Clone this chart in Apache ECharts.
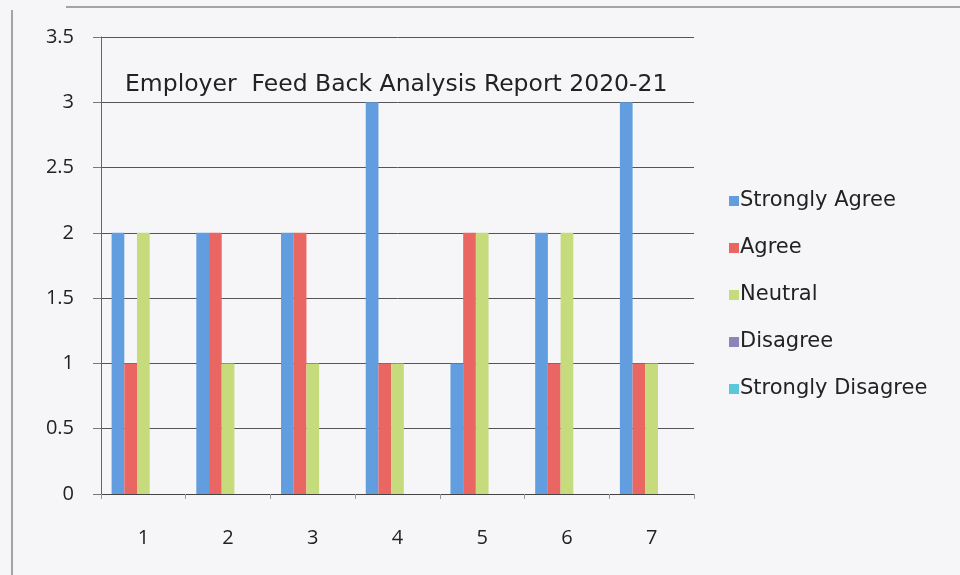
<!DOCTYPE html>
<html><head><meta charset="utf-8">
<script src="https://cdn.jsdelivr.net/npm/echarts@6/dist/echarts.min.js"></script>
<style>html,body{margin:0;padding:0;background:#f6f6f8}#c{width:960px;height:575px}</style>
</head><body><div id="c"></div>
<script>
const categories = ['1','2','3','4','5','6','7'];
const seriesNames = ['Strongly Agree','Agree','Neutral','Disagree','Strongly Disagree'];
const stronglyAgree = [2,2,2,3,1,2,3];
const agree = [1,2,2,1,2,1,1];
const neutral = [2,1,1,1,2,2,1];
const disagree = [0,0,0,0,0,0,0];
const stronglyDisagree = [0,0,0,0,0,0,0];
const titleText = 'Employer  Feed Back Analysis Report 2020-21';

const colors = ['#629ddf','#ea6663','#c6dc7c','#8c85b8','#5cc6da'];
const values = [stronglyAgree, agree, neutral, disagree, stronglyDisagree];

const chart = echarts.init(document.getElementById('c'));
chart.setOption({
  backgroundColor: '#f6f6f8',
  animation: false,
  color: colors,
  title: {
    text: titleText,
    left: 120, top: 68,
    textStyle: {fontFamily: 'DejaVu Sans', fontSize: 23.5, fontWeight: 'normal', color: '#222'}
  },
  legend: {
    orient: 'vertical', left: 724, top: 185, itemGap: 25,
    itemWidth: 10, itemHeight: 10, icon: 'rect',
    textStyle: {fontFamily: 'DejaVu Sans', fontSize: 21, lineHeight: 22, color: '#222', padding: [0,0,0,-4]},
    data: seriesNames
  },
  grid: {left: 101, right: 266, top: 37, bottom: 81},
  xAxis: {
    type: 'category', data: categories,
    axisLine: {lineStyle: {color: '#444', width: 1}},
    axisTick: {show: true, length: 5, lineStyle: {color: '#999'}},
    axisLabel: {fontFamily: 'Open Sans', fontSize: 20, color: '#222', margin: 34}
  },
  yAxis: {
    type: 'value', min: 0, max: 3.5, interval: 0.5,
    axisLine: {show: true, lineStyle: {color: '#666'}},
    axisTick: {show: true, length: 8, lineStyle: {color: '#777'}},
    splitLine: {lineStyle: {color: '#555', width: 1}},
    axisLabel: {fontFamily: 'Open Sans', fontSize: 20, color: '#222', margin: 27}
  },
  graphic: [
    {type: 'line', shape: {x1: 66, y1: 7, x2: 960, y2: 7}, style: {stroke: '#888', lineWidth: 1.5}, silent: true},
    {type: 'line', shape: {x1: 12, y1: 10, x2: 12, y2: 575}, style: {stroke: '#888', lineWidth: 1.5}, silent: true}
  ],
  series: seriesNames.map((n, i) => ({
    name: n, type: 'bar', data: values[i],
    barWidth: 12.7, barGap: '0%'
  }))
});
</script></body></html>
